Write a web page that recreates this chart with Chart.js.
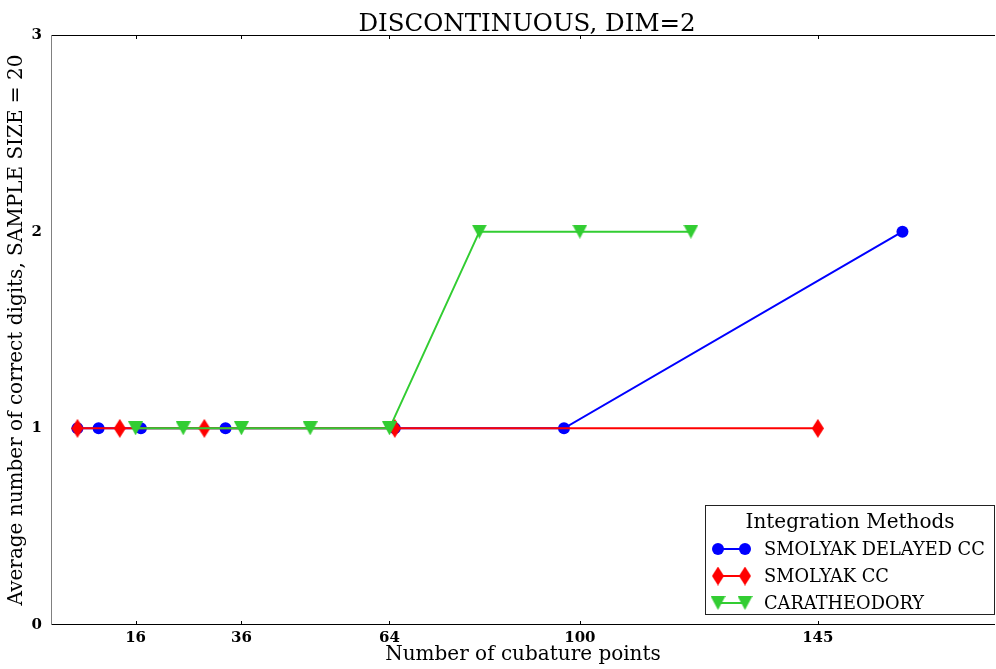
<!DOCTYPE html>
<html>
<head>
<meta charset="utf-8">
<script src="https://cdn.jsdelivr.net/npm/chart.js@4/dist/chart.umd.min.js"></script>
<style>
html,body{margin:0;padding:0;background:#fff;}
#wrap{width:996px;height:669px;position:relative;}
</style>
</head>
<body>
<div id="wrap"><canvas id="c" width="996" height="669"></canvas></div>
<script>
// ---- data ----
const titleText = "DISCONTINUOUS, DIM=2";
const xTitle = "Number of cubature points";
const yTitle = "Average number of correct digits, SAMPLE SIZE = 20";
const legendTitle = "Integration Methods";
const xTickValues = [16, 36, 64, 100, 145];
const yTickValues = [0, 1, 2, 3];

const delayedLabel = "SMOLYAK DELAYED CC";
const delayedX = [5, 9, 17, 33, 65, 97, 161];
const delayedY = [1, 1, 1, 1, 1, 1, 2];

const ccLabel = "SMOLYAK CC";
const ccX = [5, 13, 29, 65, 145];
const ccY = [1, 1, 1, 1, 1];

const caraLabel = "CARATHEODORY";
const caraX = [16, 25, 36, 49, 64, 81, 100, 121];
const caraY = [1, 1, 1, 1, 1, 2, 2, 2];

// ---- marker images ----
function makeDiamond(w, h, color) {
  const c = document.createElement('canvas');
  c.width = w; c.height = h;
  const g = c.getContext('2d');
  g.fillStyle = color;
  g.beginPath();
  g.moveTo(w / 2, 0); g.lineTo(w, h / 2); g.lineTo(w / 2, h); g.lineTo(0, h / 2);
  g.closePath(); g.fill();
  return c;
}
function makeTriDown(w, h, color) {
  const c = document.createElement('canvas');
  c.width = w; c.height = h;
  const g = c.getContext('2d');
  g.fillStyle = color;
  g.beginPath();
  g.moveTo(0, 0); g.lineTo(w, 0); g.lineTo(w / 2, h);
  g.closePath(); g.fill();
  return c;
}
const BLUE = '#0000ff', RED = '#ff0000', GREEN = '#32cd32';
const diamondImg = makeDiamond(12, 19, RED);
const triImg = makeTriDown(15, 14, GREEN);

function pts(xs, ys) { return xs.map((x, i) => ({x: x, y: ys[i]})); }

const SERIF = '"DejaVu Serif", "Liberation Serif", serif';

// ---- plugin: frame, inward ticks, legend ----
const decor = {
  id: 'decor',
  afterDraw(chart) {
    const ctx = chart.ctx;
    const a = chart.chartArea;
    const xs = chart.scales.x;
    ctx.save();
    // frame
    ctx.lineWidth = 1;
    ctx.strokeStyle = '#000';
    ctx.beginPath();
    ctx.moveTo(a.left, Math.round(a.top) + 0.5); ctx.lineTo(a.right, Math.round(a.top) + 0.5);
    ctx.moveTo(a.left, Math.round(a.bottom) - 0.5); ctx.lineTo(a.right, Math.round(a.bottom) - 0.5);
    ctx.stroke();
    ctx.strokeStyle = '#808080';
    ctx.beginPath();
    ctx.moveTo(Math.round(a.left) + 0.5, a.top); ctx.lineTo(Math.round(a.left) + 0.5, a.bottom);
    ctx.stroke();
    // inward x ticks
    ctx.strokeStyle = '#000';
    ctx.beginPath();
    xTickValues.forEach(v => {
      const px = Math.round(xs.getPixelForValue(v)) + 0.5;
      ctx.moveTo(px, a.top); ctx.lineTo(px, a.top + 4);
      ctx.moveTo(px, a.bottom); ctx.lineTo(px, a.bottom - 4);
    });
    ctx.stroke();

    // legend
    const L = 705, T = 505, R = 995, B = 615;
    ctx.fillStyle = '#fff';
    ctx.fillRect(L, T, R - L, B - T);
    ctx.strokeStyle = '#222';
    ctx.lineWidth = 1;
    ctx.strokeRect(L + 0.5, T + 0.5, R - L - 1, B - T - 1);
    ctx.fillStyle = '#000';
    ctx.textAlign = 'center';
    ctx.textBaseline = 'middle';
    ctx.font = '20px ' + SERIF;
    ctx.fillText(legendTitle, 850, 523);
    const entries = chart.data.datasets;
    const rows = [549, 576, 603];
    entries.forEach((ds, i) => {
      const y = rows[i];
      ctx.strokeStyle = ds.borderColor;
      ctx.lineWidth = 2;
      ctx.beginPath();
      ctx.moveTo(718, y); ctx.lineTo(745, y);
      ctx.stroke();
      [718, 745].forEach(mx => {
        if (ds.pointStyle === 'circle') {
          ctx.fillStyle = ds.pointBackgroundColor;
          ctx.beginPath();
          ctx.arc(mx, y, 6, 0, Math.PI * 2);
          ctx.fill();
        } else {
          const img = ds.pointStyle;
          ctx.drawImage(img, mx - img.width / 2, y - img.height / 2);
        }
      });
      ctx.fillStyle = '#000';
      ctx.textAlign = 'left';
      ctx.font = '17.8px ' + SERIF;
      ctx.fillText(ds.label, 764, y + 1);
    });
    ctx.restore();
  }
};

Chart.defaults.font.family = SERIF;
Chart.defaults.color = '#000';

new Chart(document.getElementById('c'), {
  type: 'scatter',
  data: {
    datasets: [
      {
        label: delayedLabel,
        data: pts(delayedX, delayedY),
        showLine: true,
        borderColor: BLUE,
        backgroundColor: BLUE,
        pointBackgroundColor: BLUE,
        pointBorderWidth: 0,
        borderWidth: 2,
        pointStyle: 'circle',
        pointRadius: 6,
        order: 3
      },
      {
        label: ccLabel,
        data: pts(ccX, ccY),
        showLine: true,
        borderColor: RED,
        backgroundColor: RED,
        pointBackgroundColor: RED,
        borderWidth: 2,
        pointStyle: diamondImg,
        order: 2
      },
      {
        label: caraLabel,
        data: pts(caraX, caraY),
        showLine: true,
        borderColor: GREEN,
        backgroundColor: GREEN,
        pointBackgroundColor: GREEN,
        borderWidth: 2,
        pointStyle: triImg,
        order: 1
      }
    ]
  },
  options: {
    responsive: false,
    animation: false,
    events: [],
    layout: {autoPadding: false, padding: {top: 35, right: 1, bottom: 0, left: 0}},
    plugins: {
      legend: {display: false},
      tooltip: {enabled: false},
      title: {display: false}
    },
    scales: {
      x: {
        type: 'linear',
        min: 0,
        max: 178.5,
        grid: {display: false, drawTicks: false},
        border: {display: false},
        afterBuildTicks: s => { s.ticks = xTickValues.map(v => ({value: v})); },
        afterFit: s => { s.height = 44; s.paddingLeft = 0; s.paddingRight = 0; },
        ticks: {
          padding: 4,
          font: {size: 15, weight: 'bold', family: SERIF},
          color: '#000',
          callback: v => String(v)
        },
        title: {
          display: true,
          text: xTitle,
          font: {size: 20, family: SERIF},
          padding: {top: 0, bottom: 2},
          color: '#000'
        }
      },
      y: {
        type: 'linear',
        min: 0,
        max: 3,
        grid: {display: false, drawTicks: false},
        border: {display: false},
        afterBuildTicks: s => { s.ticks = yTickValues.map(v => ({value: v})); },
        afterFit: s => { s.width = 51; s.paddingTop = 0; s.paddingBottom = 0; },
        ticks: {
          padding: 9,
          font: {size: 15, weight: 'bold', family: SERIF},
          color: '#000'
        },
        title: {
          display: true,
          text: yTitle,
          font: {size: 20, family: SERIF},
          padding: {top: 5, bottom: 0},
          color: '#000'
        }
      }
    }
  },
  plugins: [decor, {
    id: 'titleDraw',
    afterDraw(chart) {
      const ctx = chart.ctx, a = chart.chartArea;
      ctx.save();
      ctx.fillStyle = '#000';
      ctx.textAlign = 'center';
      ctx.textBaseline = 'alphabetic';
      ctx.font = '24.5px ' + SERIF;
      ctx.fillText(titleText, 527, 31);
      ctx.restore();
    }
  }]
});
</script>
</body>
</html>
